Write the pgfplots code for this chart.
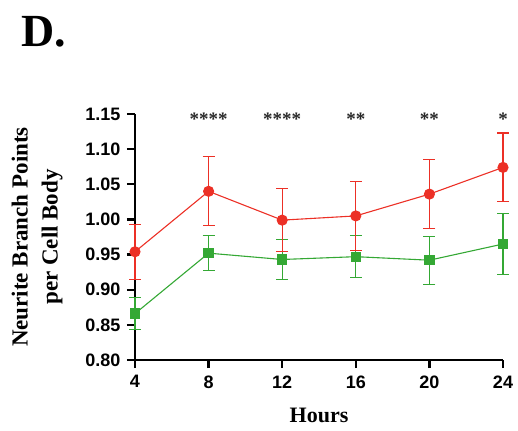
\documentclass[border=0pt]{standalone}
\usepackage{fontspec}
\setmainfont{Liberation Serif}
\newfontfamily\arialf{Liberation Sans}
\usepackage{pgfplots}
\pgfplotsset{compat=1.18}
\definecolor{myred}{RGB}{236,48,38}
\definecolor{mygreen}{RGB}{52,168,52}
\begin{document}
\begin{tikzpicture}
\begin{axis}[
  scale only axis, width=368pt, height=246pt,
  xmin=4, xmax=24, ymin=0.8, ymax=1.15,
  axis x line*=bottom, axis y line*=left,
  xtick={4,8,12,16,20,24},
  ytick={0.80,0.85,0.90,0.95,1.00,1.05,1.10,1.15},
  tick align=outside, major tick length=8pt,
  tick style={black, line width=2.4pt},
  axis line style={black, line width=2.6pt},
  clip=false,
  /pgf/number format/assume math mode=true,
  y tick label style={xshift=-3pt, /pgf/number format/.cd, fixed, fixed zerofill, precision=2},
  x tick label style={yshift=-4pt},
  ticklabel style={font=\arialf\bfseries\fontsize{18}{18}\selectfont},
  xlabel={Hours},
  xlabel style={at={(axis description cs:0.5,-0.256)}, anchor=base, font=\bfseries\fontsize{22}{22}\selectfont},
  ylabel={Neurite Branch Points\\per Cell Body},
  ylabel style={at={(axis description cs:-0.266,0.5)}, anchor=center, align=center, font=\bfseries\fontsize{23}{30}\selectfont},
]
\addplot[mygreen, line width=1.1pt, mark=square*, mark size=4.6pt, mark options={solid},
  error bars/.cd, y dir=both, y explicit,
  error bar style={line width=1.1pt, mygreen},
  error mark options={rotate=90, mark size=6pt, line width=1.1pt, mygreen}]
  table[x=x, y=y, y error=e] {
x y e
4 0.866 0.023
8 0.952 0.025
12 0.943 0.028
16 0.947 0.030
20 0.942 0.034
24 0.965 0.043
};
\addplot[myred, line width=1.1pt, mark=*, mark size=5pt, mark options={solid},
  error bars/.cd, y dir=both, y explicit,
  error bar style={line width=1.1pt, myred},
  error mark options={rotate=90, mark size=6pt, line width=1.1pt, myred}]
  table[x=x, y=y, y error=e] {
x y e
4 0.954 0.039
8 1.040 0.049
12 0.999 0.045
16 1.005 0.049
20 1.036 0.049
24 1.074 0.049
};
\addplot[draw=none, mark=none, nodes near coords, point meta=explicit symbolic,
  every node near coord/.style={anchor=center, inner sep=0pt, font=\bfseries\fontsize{19}{19}\selectfont, text=black!85}]
  table[x=x, y=y, meta=s] {
x y s
8 1.142 ****
12 1.142 ****
16 1.142 **
20 1.142 **
24 1.142 *
};
\end{axis}
\node[anchor=base west, inner sep=0pt, font=\bfseries\fontsize{46}{46}\selectfont] at (-114pt,313pt) {D.};
\pgfresetboundingbox
\path[use as bounding box] (-135pt,-70pt) rectangle (383pt,360pt);
\end{tikzpicture}
\end{document}
